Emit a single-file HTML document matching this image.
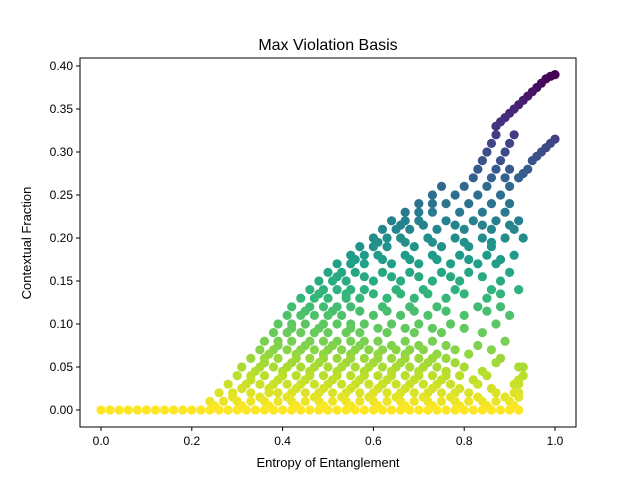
<!DOCTYPE html>
<html><head><meta charset="utf-8"><style>
html,body{margin:0;padding:0;background:#fff}
svg{display:block;font-family:"Liberation Sans","DejaVu Sans",sans-serif}
</style></head><body>
<svg id="chart" width="640" height="480" viewBox="0 0 640 480">
<rect x="0" y="0" width="640" height="480" fill="#fff"/>
<text x="328" y="50" text-anchor="middle" font-size="16" fill="#000">Max Violation Basis</text>
<g id="points"></g>
<rect x="80" y="58" width="496" height="369" fill="none" stroke="#000" stroke-width="1"/>
<g id="axes"></g>
<text x="328" y="467" text-anchor="middle" font-size="13">Entropy of Entanglement</text>
<text transform="translate(31,243) rotate(-90)" text-anchor="middle" font-size="13">Contextual Fraction</text>
</svg>
<script>
const xTicks=[0,0.2,0.4,0.6,0.8,1.0];
const xTickLabels=["0.0","0.2","0.4","0.6","0.8","1.0"];
const yTicks=[0,0.05,0.1,0.15,0.2,0.25,0.3,0.35,0.4];
const yTickLabels=["0.00","0.05","0.10","0.15","0.20","0.25","0.30","0.35","0.40"];
const baseX=[0,0.02,0.04,0.06,0.08,0.1,0.12,0.14,0.16,0.18,0.2,0.22,0.24,0.26,0.28,0.3,0.32,0.34,0.36,0.38,0.4,0.42,0.44,0.46,0.48,0.5,0.52,0.54,0.56,0.58,0.6,0.62,0.64,0.66,0.68,0.7,0.72,0.74,0.76,0.78,0.8,0.82,0.84,0.86,0.88,0.9,0.92];
const rowY=[0.01,0.02,0.03,0.04,0.05,0.06,0.07,0.08,0.09,0.10,0.11,0.12,0.13,0.14,0.15,0.16,0.17,0.18,0.19,0.20,0.21,0.22,0.23,0.24,0.25,0.26,0.27,0.28,0.29,0.30,0.31,0.32];
const rowX=[
[0.24,0.27,0.30,0.33,0.36,0.39,0.42,0.45,0.48,0.51,0.54,0.57,0.60,0.63,0.66,0.69,0.72,0.75,0.78,0.81,0.84,0.87,0.90],
[0.26,0.29,0.33,0.37,0.39,0.42,0.45,0.48,0.51,0.54,0.57,0.60,0.63,0.66,0.69,0.72,0.75,0.78,0.81,0.87,0.92],
[0.28,0.32,0.35,0.38,0.41,0.44,0.47,0.50,0.53,0.56,0.59,0.62,0.65,0.68,0.71,0.74,0.77,0.83,0.91],
[0.30,0.33,0.36,0.40,0.43,0.46,0.49,0.52,0.55,0.58,0.61,0.64,0.67,0.70,0.73,0.76,0.79,0.85,0.93],
[0.31,0.35,0.38,0.41,0.44,0.47,0.50,0.53,0.56,0.59,0.62,0.65,0.68,0.71,0.74,0.80,0.92],
[0.33,0.36,0.39,0.43,0.46,0.49,0.52,0.55,0.58,0.61,0.64,0.67,0.70,0.73,0.76,0.88],
[0.35,0.38,0.41,0.44,0.47,0.50,0.53,0.56,0.59,0.62,0.65,0.68,0.71,0.78,0.86],
[0.36,0.39,0.42,0.46,0.49,0.52,0.55,0.58,0.61,0.67,0.73,0.89],
[0.38,0.41,0.44,0.47,0.50,0.54,0.57,0.63,0.69,0.75,0.84],
[0.39,0.42,0.45,0.49,0.52,0.55,0.58,0.64,0.70,0.77,0.87],
[0.41,0.44,0.47,0.50,0.53,0.60,0.66,0.72,0.80,0.90],
[0.42,0.46,0.49,0.52,0.55,0.62,0.68,0.74,0.83,0.88],
[0.44,0.47,0.50,0.54,0.57,0.63,0.69,0.76,0.85],
[0.46,0.49,0.52,0.55,0.58,0.65,0.71,0.78,0.86,0.92],
[0.48,0.51,0.54,0.60,0.66,0.73,0.79,0.88],
[0.50,0.53,0.56,0.62,0.68,0.75,0.81,0.90],
[0.52,0.55,0.58,0.64,0.70,0.77,0.83,0.87],
[0.55,0.58,0.61,0.67,0.73,0.79,0.85,0.91],
[0.57,0.60,0.63,0.69,0.75,0.81,0.86],
[0.60,0.63,0.66,0.72,0.78,0.84,0.89,0.93],
[0.62,0.65,0.68,0.74,0.80,0.86,0.91],
[0.64,0.67,0.70,0.76,0.82,0.87,0.92],
[0.67,0.70,0.73,0.79,0.84,0.89],
[0.70,0.73,0.76,0.81,0.86,0.90],
[0.73,0.78,0.83,0.88],
[0.75,0.80,0.85,0.90],
[0.82,0.86,0.89,0.92],
[0.83,0.87,0.90],
[0.84,0.88],
[0.85,0.89],
[0.86,0.90],
[0.87,0.91]];
const fillY=[0.005,0.015,0.025,0.035,0.045,0.055,0.065,0.075,0.095,0.115,0.135,0.155,0.175,0.195,0.215];
const fillX=[
[0.25,0.31,0.37,0.43,0.49,0.55,0.61,0.67,0.73,0.79,0.85,0.91],
[0.29,0.35,0.41,0.47,0.53,0.59,0.65,0.71,0.77,0.83,0.89],
[0.31,0.37,0.43,0.49,0.55,0.61,0.67,0.73,0.79,0.86],
[0.33,0.39,0.45,0.51,0.57,0.63,0.69,0.75,0.82,0.92],
[0.34,0.40,0.46,0.52,0.58,0.64,0.70,0.76,0.84],
[0.36,0.42,0.48,0.54,0.60,0.66,0.72,0.78,0.87],
[0.37,0.43,0.49,0.55,0.61,0.67,0.74,0.81],
[0.39,0.45,0.51,0.57,0.64,0.70,0.76,0.83],
[0.42,0.48,0.55,0.61,0.67,0.73,0.80],
[0.45,0.51,0.57,0.63,0.69,0.76,0.85],
[0.48,0.54,0.60,0.66,0.72,0.80,0.88],
[0.52,0.58,0.64,0.70,0.77,0.84],
[0.56,0.62,0.68,0.74,0.81,0.88],
[0.61,0.67,0.73,0.80,0.86],
[0.66,0.71,0.78,0.84,0.90]];
const topLineX=[0.87,0.88,0.89,0.90,0.91,0.92,0.93,0.94,0.95,0.96,0.97,0.98,0.99,1.0];
const topLineY=[0.33,0.335,0.34,0.345,0.35,0.355,0.36,0.365,0.37,0.375,0.38,0.385,0.388,0.39];
const lowLineX=[0.92,0.93,0.94,0.95,0.96,0.97,0.98,0.99,1.0];
const lowLineY=[0.27,0.275,0.28,0.29,0.295,0.30,0.305,0.31,0.315];
const tailX=[0.92,0.93,0.92,0.91];
const tailY=[0.015,0.05,0.03,0.02];

const X0=80,X1=576,Y0=58,Y1=427;
function sx(v){return 101+454*v;}
function sy(v){return 410-860*v;}
const vir=[[68,1,84],[72,40,120],[62,74,137],[49,104,142],[38,130,142],[31,158,137],[53,183,121],[109,205,89],[180,222,44],[253,231,37]];
function color(y){let t=1-Math.max(0,Math.min(1,y/0.39));let p=t*(vir.length-1),i=Math.min(vir.length-2,Math.floor(p)),f=p-i;
const c=vir[i].map((a,k)=>Math.round(a+(vir[i+1][k]-a)*f));return `rgb(${c[0]},${c[1]},${c[2]})`;}
const NS="http://www.w3.org/2000/svg";
const pts=[];
baseX.forEach(x=>pts.push([x,0]));
rowY.forEach((y,i)=>rowX[i].forEach(x=>pts.push([x,y])));
fillY.forEach((y,i)=>fillX[i].forEach(x=>pts.push([x,y])));
topLineX.forEach((x,i)=>pts.push([x,topLineY[i]]));
lowLineX.forEach((x,i)=>pts.push([x,lowLineY[i]]));
tailX.forEach((x,i)=>pts.push([x,tailY[i]]));
pts.sort((a,b)=>b[1]-a[1]);
const g=document.getElementById('points');
pts.forEach(p=>{const c=document.createElementNS(NS,'circle');
c.setAttribute('cx',sx(p[0]));c.setAttribute('cy',sy(p[1]));c.setAttribute('r',4.6);c.setAttribute('fill',color(p[1]));


g.appendChild(c);});
const ax=document.getElementById('axes');
xTicks.forEach((v,i)=>{const l=document.createElementNS(NS,'line');l.setAttribute('x1',sx(v));l.setAttribute('x2',sx(v));l.setAttribute('y1',Y1);l.setAttribute('y2',Y1+4);l.setAttribute('stroke','#000');


ax.appendChild(l);
const t=document.createElementNS(NS,'text');t.setAttribute('x',sx(v));t.setAttribute('y',Y1+18);t.setAttribute('text-anchor','middle');t.setAttribute('font-size','12');t.textContent=xTickLabels[i];


ax.appendChild(t);});
yTicks.forEach((v,i)=>{const l=document.createElementNS(NS,'line');l.setAttribute('x1',X0-4);l.setAttribute('x2',X0);l.setAttribute('y1',sy(v));l.setAttribute('y2',sy(v));l.setAttribute('stroke','#000');


ax.appendChild(l);
const t=document.createElementNS(NS,'text');t.setAttribute('x',X0-7);t.setAttribute('y',sy(v)+4);t.setAttribute('text-anchor','end');t.setAttribute('font-size','12');t.textContent=yTickLabels[i];


ax.appendChild(t);});
</script>
</body></html>
